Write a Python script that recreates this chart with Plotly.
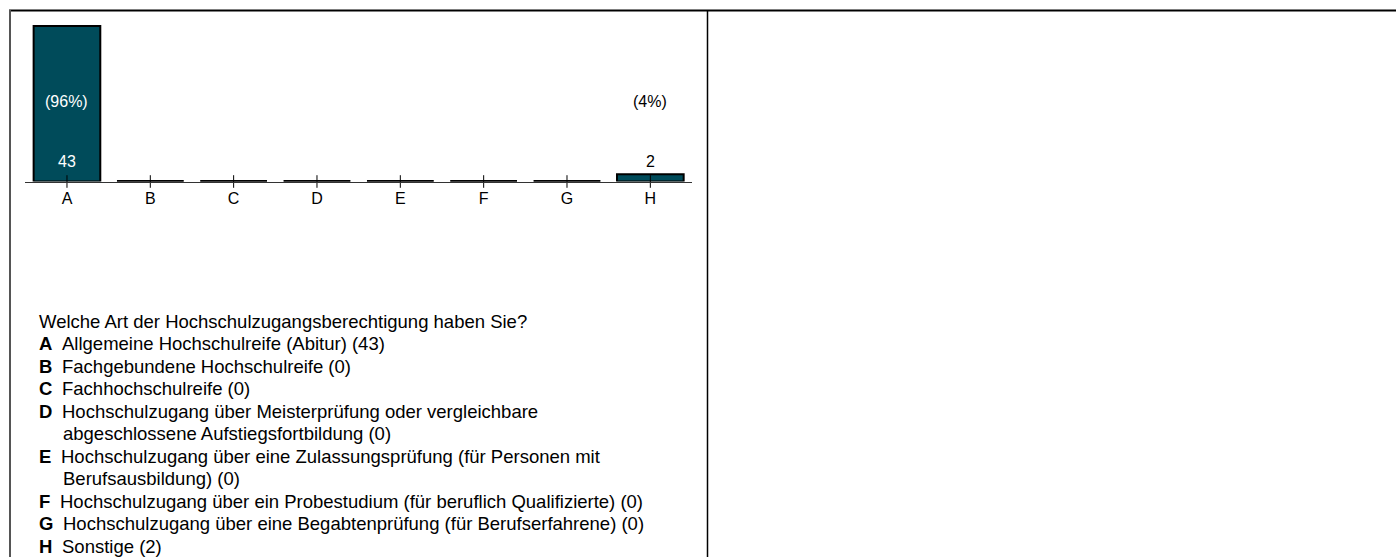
import plotly.graph_objects as go

# ---------------- data ----------------
categories = ["A", "B", "C", "D", "E", "F", "G", "H"]
counts = [43, 0, 0, 0, 0, 0, 0, 2]
question = "Welche Art der Hochschulzugangsberechtigung haben Sie?"
descriptions = [
    ["Allgemeine Hochschulreife (Abitur) (43)"],
    ["Fachgebundene Hochschulreife (0)"],
    ["Fachhochschulreife (0)"],
    ["Hochschulzugang über Meisterprüfung oder vergleichbare",
     "abgeschlossene Aufstiegsfortbildung (0)"],
    ["Hochschulzugang über eine Zulassungsprüfung (für Personen mit",
     "Berufsausbildung) (0)"],
    ["Hochschulzugang über ein Probestudium (für beruflich Qualifizierte) (0)"],
    ["Hochschulzugang über eine Begabtenprüfung (für Berufserfahrene) (0)"],
    ["Sonstige (2)"],
]

# ---------------- layout helpers ----------------
W, H = 1396, 557
FONT = "Liberation Sans, Arial, Helvetica, sans-serif"
BAR_COLOR = "#004b5a"
TXT_SIZE = 18.5


def xp(px):
    return px / W


def yp(py):
    return 1 - py / H


total = sum(counts)
percents = [round(100 * c / total) for c in counts]

base_px, top_px = 181.5, 26.0
px_per_unit = (base_px - top_px) / max(counts)
frame_top = 10.0
y_max = (base_px - frame_top) / px_per_unit

fig = go.Figure()

fig.add_trace(go.Bar(
    x=categories, y=counts, width=0.8,
    marker=dict(color=BAR_COLOR, line=dict(color="black", width=2)),
    hoverinfo="x+y", showlegend=False,
))

# tick marks crossing the axis line
fig.add_trace(go.Scatter(
    x=categories, y=[0] * len(categories), mode="markers",
    marker=dict(symbol="line-ns", size=9, line=dict(color="black", width=1)),
    cliponaxis=False, hoverinfo="skip", showlegend=False,
))

shapes = []
# zero-value bars drawn as thick baseline strokes
for i, c in enumerate(counts):
    if c == 0:
        shapes.append(dict(type="line", xref="x", yref="y",
                           x0=i - 0.4, x1=i + 0.4, y0=0, y1=0,
                           line=dict(color="black", width=3)))

# frame lines
shapes += [
    dict(type="line", xref="paper", yref="paper", x0=xp(9), x1=1,
         y0=yp(10.5), y1=yp(10.5), line=dict(color="black", width=2)),
    dict(type="line", xref="paper", yref="paper", x0=xp(10), x1=xp(10),
         y0=yp(10), y1=0, line=dict(color="#555555", width=2)),
    dict(type="line", xref="paper", yref="paper", x0=xp(707.5), x1=xp(707.5),
         y0=yp(10), y1=0, line=dict(color="black", width=1.5)),
]

annotations = []
for i, (cat, c, p) in enumerate(zip(categories, counts, percents)):
    if c == 0:
        continue
    bar_top = base_px - c * px_per_unit
    for label, ypx in ((str(c), 161.5), (f"({p}%)", 102.0)):
        color = "white" if bar_top < ypx - 8 else "black"
        annotations.append(dict(
            x=cat, xref="x", y=yp(ypx), yref="paper", text=label,
            showarrow=False, xanchor="center", yanchor="middle",
            font=dict(family=FONT, size=16, color=color)))

# description text block
bold_w = {"A": .722, "B": .722, "C": .722, "D": .722, "E": .667,
          "F": .611, "G": .778, "H": .722}
line_y = 321.5
line_step = 22.45
text_x = 37
annotations.append(dict(
    x=xp(text_x), y=yp(line_y), xref="paper", yref="paper", text=question,
    showarrow=False, xanchor="left", yanchor="middle",
    font=dict(family=FONT, size=TXT_SIZE, color="black")))
line_y += line_step
for cat, lines in zip(categories, descriptions):
    annotations.append(dict(
        x=xp(text_x), y=yp(line_y), xref="paper", yref="paper",
        text=f"<b>{cat}</b>", showarrow=False, xanchor="left", yanchor="middle",
        font=dict(family=FONT, size=TXT_SIZE, color="black")))
    start = text_x + bold_w[cat] * TXT_SIZE + 10
    for j, ln in enumerate(lines):
        annotations.append(dict(
            x=xp(start if j == 0 else 61), y=yp(line_y), xref="paper", yref="paper",
            text=ln, showarrow=False, xanchor="left", yanchor="middle",
            font=dict(family=FONT, size=TXT_SIZE, color="black")))
        line_y += line_step

fig.update_layout(
    width=W, height=H,
    margin=dict(l=0, r=0, t=0, b=0),
    paper_bgcolor="white", plot_bgcolor="white",
    font=dict(family=FONT, size=16, color="black"),
    bargap=0.2,
    xaxis=dict(
        type="category", domain=[xp(25.3), xp(692)], range=[-0.5, 7.5],
        showline=True, linecolor="#333333", linewidth=1,
        ticks="", showgrid=False, zeroline=False,
        tickfont=dict(family=FONT, size=16, color="black"),
        ticklabelstandoff=2,
    ),
    yaxis=dict(
        domain=[yp(base_px), yp(frame_top)], range=[0, y_max],
        visible=False, showgrid=False, zeroline=False,
    ),
    shapes=shapes,
    annotations=annotations,
    showlegend=False,
)

fig.write_html(
    "out.html",
    config={"displayModeBar": False},
    post_script="document.body.style.margin='0';document.body.style.overflow='hidden';",
)
